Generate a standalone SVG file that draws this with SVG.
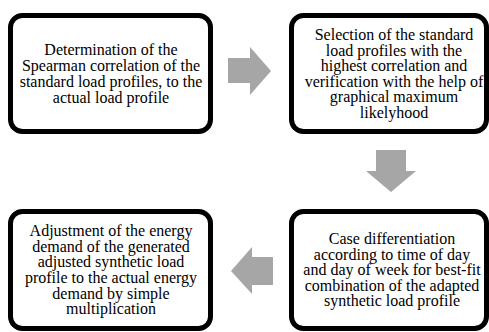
<svg xmlns="http://www.w3.org/2000/svg" width="489" height="332" viewBox="0 0 489 332">
<style>
.box{fill:#fff;stroke:#000;stroke-width:5}
.arr{fill:#a6a6a6}
text{font-family:"Liberation Serif","Times New Roman",serif;font-size:16px;fill:#000;text-anchor:middle}
</style>
<rect width="489" height="332" fill="#fff"/>
<g id="connectors">
<polygon class="arr" points="228,58 250,58 250,47 271,71 250,95 250,83 228,83"/>
<polygon class="arr" points="376,150 406,150 406,171 416,171 391,192 366,171 376,171"/>
<polygon class="arr" points="273,257 252,257 252,247 231,271 252,294 252,285 273,285"/>
</g>
<g id="node1">
<rect class="box" x="10.5" y="15.5" width="200" height="116" rx="12"/>
<text x="111" y="55">Determination of the</text>
<text x="111" y="71">Spearman correlation of the</text>
<text x="111" y="87">standard load profiles, to the</text>
<text x="111" y="103">actual load profile</text>
</g>
<g id="node2">
<rect class="box" x="291.5" y="15.5" width="195" height="116" rx="12"/>
<text x="394" y="40">Selection of the standard</text>
<text x="394" y="55.5">load profiles with the</text>
<text x="394" y="71">highest correlation and</text>
<text x="394" y="86.5">verification with the help of</text>
<text x="394" y="102">graphical maximum</text>
<text x="394" y="117.5">likelyhood</text>
</g>
<g id="node3">
<rect class="box" x="10.5" y="211.5" width="200" height="117" rx="12"/>
<text x="111" y="236">Adjustment of the energy</text>
<text x="111" y="251.5">demand of the generated</text>
<text x="111" y="267">adjusted synthetic load</text>
<text x="111" y="283">profile to the actual energy</text>
<text x="111" y="298.5">demand by simple</text>
<text x="111" y="314">multiplication</text>
</g>
<g id="node4">
<rect class="box" x="291.5" y="211.5" width="195" height="117" rx="12"/>
<text x="392" y="244">Case differentiation</text>
<text x="392" y="259.5">according to time of day</text>
<text x="392" y="275">and day of week for best-fit</text>
<text x="392" y="290.5">combination of the adapted</text>
<text x="392" y="306">synthetic load profile</text>
</g>
</svg>
